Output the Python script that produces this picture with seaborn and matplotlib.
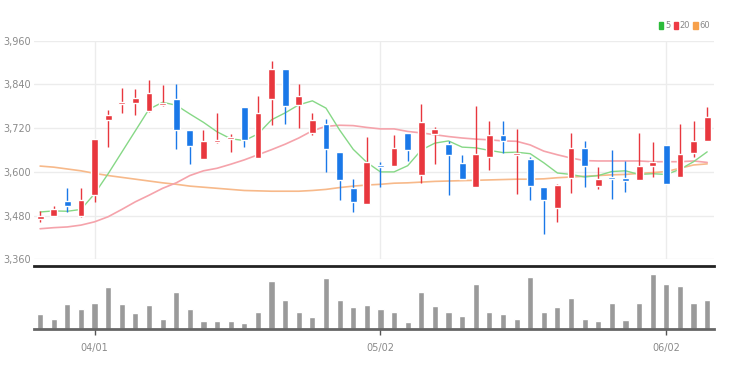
import numpy as np
import pandas as pd
import matplotlib
matplotlib.use("Agg")
import matplotlib.pyplot as plt
from matplotlib.patches import Patch
import seaborn as sns

# candle data
opens = [3470, 3480, 3521, 3478, 3536, 3742, 3785, 3788, 3766, 3783,
         3800, 3716, 3636, 3683, 3690, 3778, 3638, 3799, 3881, 3783,
         3707, 3731, 3654, 3555, 3513, 3619, 3616, 3707, 3592, 3704,
         3676, 3624, 3559, 3642, 3700, 3647, 3635, 3559, 3500, 3582,
         3665, 3561, 3586, 3582, 3578, 3616, 3674, 3587, 3651, 3685]
closes = [3479, 3498, 3507, 3524, 3690, 3757, 3791, 3803, 3817, 3788,
          3716, 3672, 3686, 3688, 3695, 3688, 3762, 3881, 3782, 3808,
          3743, 3662, 3578, 3518, 3627, 3613, 3665, 3661, 3736, 3718,
          3647, 3580, 3650, 3702, 3685, 3653, 3561, 3523, 3564, 3665,
          3616, 3580, 3580, 3576, 3615, 3626, 3566, 3650, 3684, 3750]
highs = [3492, 3507, 3555, 3555, 3690, 3771, 3831, 3828, 3852, 3838,
         3840, 3716, 3716, 3762, 3705, 3778, 3808, 3904, 3881, 3842,
         3762, 3745, 3654, 3581, 3697, 3626, 3702, 3707, 3785, 3722,
         3686, 3647, 3782, 3739, 3741, 3718, 3642, 3559, 3566, 3707,
         3684, 3613, 3661, 3630, 3707, 3681, 3674, 3731, 3741, 3777]
lows = [3463, 3478, 3490, 3476, 3518, 3668, 3762, 3757, 3765, 3780,
        3662, 3622, 3636, 3679, 3654, 3668, 3638, 3730, 3732, 3720,
        3702, 3599, 3523, 3490, 3513, 3558, 3616, 3631, 3570, 3622,
        3536, 3580, 3559, 3604, 3651, 3539, 3524, 3429, 3463, 3541,
        3559, 3552, 3527, 3546, 3578, 3587, 3566, 3587, 3642, 3685]

ma5 = [3490, 3493, 3492, 3497, 3540, 3595, 3654, 3713, 3772, 3791,
       3783, 3759, 3736, 3710, 3691, 3686, 3704, 3743, 3762, 3784,
       3795, 3775, 3715, 3662, 3626, 3600, 3600, 3617, 3660, 3679,
       3685, 3668, 3666, 3659, 3653, 3654, 3650, 3625, 3597, 3593,
       3586, 3590, 3601, 3603, 3593, 3595, 3593, 3607, 3628, 3655]
ma20 = [3444, 3447, 3449, 3454, 3463, 3477, 3497, 3518, 3536, 3555,
        3570, 3590, 3603, 3610, 3621, 3633, 3647, 3661, 3676, 3693,
        3713, 3725, 3728, 3727, 3722, 3718, 3718, 3711, 3707, 3702,
        3697, 3693, 3690, 3688, 3685, 3684, 3674, 3657, 3647, 3638,
        3631, 3630, 3630, 3630, 3630, 3628, 3628, 3628, 3630, 3626]
ma60 = [3616, 3613, 3608, 3603, 3596, 3590, 3585, 3580, 3575, 3570,
        3566, 3561, 3558, 3555, 3552, 3549, 3548, 3547, 3547, 3547,
        3549, 3552, 3557, 3561, 3564, 3566, 3569, 3570, 3572, 3574,
        3575, 3576, 3577, 3578, 3579, 3580, 3580, 3581, 3584, 3586,
        3588, 3590, 3592, 3593, 3596, 3598, 3601, 3610, 3619, 3622]

volume = [44, 31, 75, 59, 79, 125, 75, 47, 73, 31,
          110, 59, 23, 23, 23, 18, 52, 143, 88, 52,
          36, 153, 88, 67, 73, 59, 52, 21, 110, 69,
          52, 38, 134, 52, 44, 31, 155, 52, 67, 92,
          29, 23, 77, 27, 77, 165, 134, 130, 77, 88]

tick_pos = [4, 25, 46]
tick_labels = ["04/01", "05/02", "06/02"]
price_ticks = [3360, 3480, 3600, 3720, 3840, 3960]

df = pd.DataFrame({"idx": np.arange(len(closes)), "open": opens, "close": closes,
                   "high": highs, "low": lows, "ma5": ma5, "ma20": ma20,
                   "ma60": ma60, "volume": volume})

UP = "#e8373e"
DOWN = "#1a78e8"

sns.set_theme(style="white")
plt.rcParams['font.family'] = ['Liberation Sans Narrow', 'DejaVu Sans']

fig = plt.figure(figsize=(7.29, 3.70), dpi=100)
ax = fig.add_axes([0.0466, 0.299, 0.9328, 0.591])
axv = fig.add_axes([0.0466, 0.111, 0.9328, 0.171])

# grid
for p in price_ticks:
    ax.axhline(p, color="#ececec", lw=1, zorder=0)
for t in tick_pos:
    ax.axvline(t, color="#ececec", lw=1, zorder=0)

# moving averages
sns.lineplot(data=df, x="idx", y="ma60", ax=ax, color="#f7b98a", lw=1.2, zorder=2)
sns.lineplot(data=df, x="idx", y="ma20", ax=ax, color="#f5a3ab", lw=1.2, zorder=2)
sns.lineplot(data=df, x="idx", y="ma5", ax=ax, color="#86d886", lw=1.0, zorder=2)

# candles
colors = [UP if c >= o else DOWN for o, c in zip(df["open"], df["close"])]
ax.vlines(df["idx"], df["low"], df["high"], colors=colors, lw=1, zorder=3)
body_lo = np.minimum(df["open"], df["close"])
body_h = np.maximum(np.abs(df["close"] - df["open"]), 4)
ax.bar(df["idx"], body_h, bottom=body_lo, width=0.5, color=colors, zorder=4)

ax.set_xlim(-0.45, 49.5)
ax.set_ylim(3360, 3960)
ax.set_yticks(price_ticks)
ax.set_yticklabels([f"{p:,}" for p in price_ticks], fontsize=7, color="#8a8a8a")
ax.set_xticks([])
ax.set_xlabel("")
ax.set_ylabel("")
ax.tick_params(axis="y", length=0, pad=2)
for s in ax.spines.values():
    s.set_visible(False)

leg = ax.legend(handles=[Patch(color="#2cbb3a", label="5"),
                         Patch(color="#ee3b45", label="20"),
                         Patch(color="#f7a04a", label="60")],
                loc="lower right", bbox_to_anchor=(1.0, 1.03), ncol=3, frameon=False,
                fontsize=6, handlelength=0.5, handleheight=0.9, handletextpad=0.2,
                columnspacing=0.4, borderpad=0, labelcolor="#888888")

# volume
sns.barplot(data=df, x="idx", y="volume", ax=axv, native_scale=True,
            color="#9a9a9a", saturation=1, width=0.45, zorder=2)
axv.set_xlim(-0.45, 49.5)
axv.set_ylim(0, 190)
axv.set_yticks([])
axv.set_xticks(tick_pos)
axv.set_xticklabels(tick_labels, fontsize=7, color="#8a8a8a")
axv.tick_params(axis="x", length=4, width=1, color="#555555", pad=6, bottom=True)
axv.set_xlabel("")
axv.set_ylabel("")
for s in ["left", "right"]:
    axv.spines[s].set_visible(False)
axv.spines["top"].set_color("#222222")
axv.spines["top"].set_linewidth(2)
axv.spines["bottom"].set_color("#666666")
axv.spines["bottom"].set_linewidth(2)

fig.savefig("out.png", dpi=100)
